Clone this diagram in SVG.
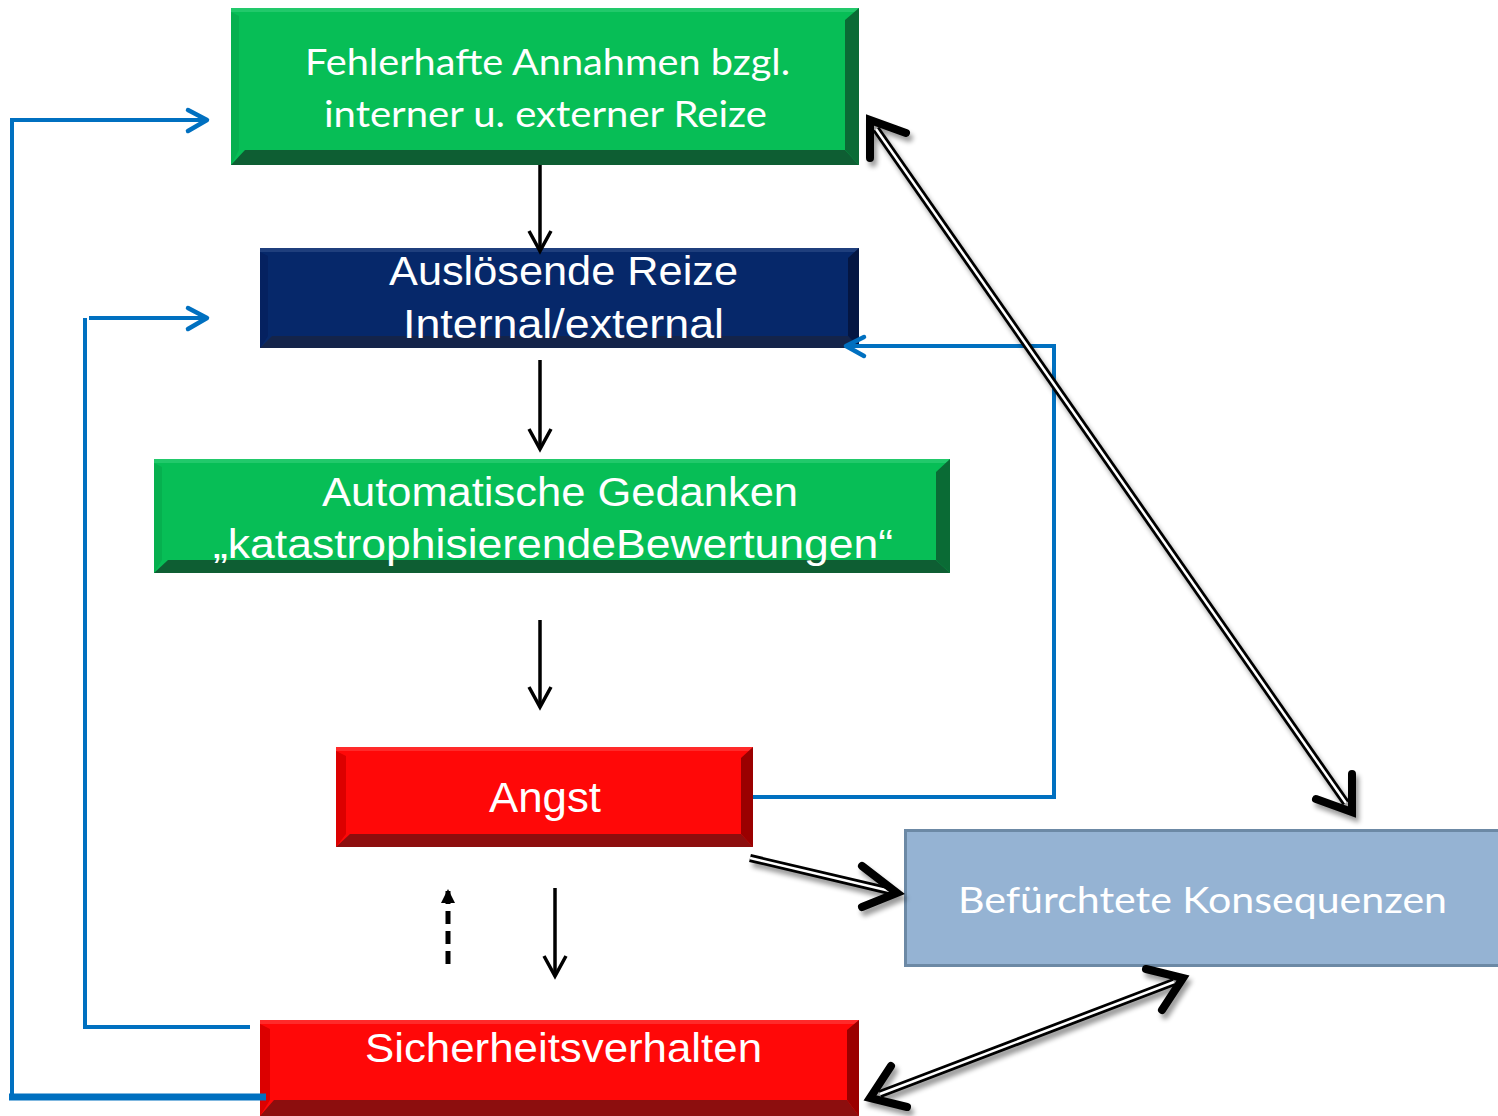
<svg xmlns="http://www.w3.org/2000/svg" width="1498" height="1116" viewBox="0 0 1498 1116">
<style>
.tw{font-family:Lato,"Open Sans","DejaVu Sans",sans-serif;fill:#fff}
.ar{font-family:"Liberation Sans",Arial,sans-serif;fill:#fff}
.blue{fill:none;stroke:#0070C0;stroke-width:4}
.bhead{fill:none;stroke:#0070C0;stroke-width:4.5;stroke-linecap:round;stroke-linejoin:round}
.blk{fill:none;stroke:#000;stroke-width:3.5}
.dshaft{fill:none;stroke:#000;stroke-width:8}
.dinner{fill:none;stroke:#fff;stroke-width:2.5}
.dhead{fill:none;stroke:#000;stroke-width:8;stroke-linecap:round;stroke-linejoin:miter}
.gtop{fill:#22C96B}.gleft{fill:#06B04F}.gright{fill:#0A6B35}.gbot{fill:#0E5E33}.gmain{fill:#07BE56}
</style>
<defs>
<marker id="vhead" markerUnits="userSpaceOnUse" viewBox="-24 -14 28 28" markerWidth="28" markerHeight="28" refX="0" refY="0" orient="auto">
<path d="M-20,-11 L0,0 L-20,11" fill="none" stroke="#000" stroke-width="3.5"/>
</marker>
<marker id="tri" markerUnits="userSpaceOnUse" viewBox="-16 -9 18 18" markerWidth="18" markerHeight="18" refX="0" refY="0" orient="auto">
<path d="M-14,-7 L0,0 L-14,7 Z" fill="#000"/>
</marker>
<filter id="sh" x="-20%" y="-20%" width="140%" height="140%">
<feGaussianBlur in="SourceAlpha" stdDeviation="2.5"/>
<feOffset dx="3" dy="5" result="b"/>
<feComponentTransfer><feFuncA type="linear" slope="0.4"/></feComponentTransfer>
<feMerge><feMergeNode/><feMergeNode in="SourceGraphic"/></feMerge>
</filter>
</defs>
<rect width="1498" height="1116" fill="#fff"/>

<g id="n1">
<rect x="231" y="8" width="628" height="157" class="gmain"/>
<rect x="231" y="8" width="628" height="4" class="gtop"/>
<polygon points="231,12 239,16 239,150 231,165" class="gleft"/>
<polygon points="859,8 859,165 845,150 845,20" class="gright"/>
<polygon points="231,165 859,165 845,150 245,150" class="gbot"/>
<text class="tw" x="305" y="75" font-size="37" textLength="485" lengthAdjust="spacingAndGlyphs">Fehlerhafte Annahmen bzgl.</text>
<text class="tw" x="324" y="127" font-size="37" textLength="443" lengthAdjust="spacingAndGlyphs">interner u. externer Reize</text>
</g>

<g id="n2">
<rect x="260" y="248" width="599" height="100" fill="#06286A"/>
<rect x="260" y="248" width="599" height="4" fill="#1F3F7D"/>
<polygon points="260,252 268,256 268,336 260,348" fill="#052160"/>
<polygon points="859,248 859,348 848,336 848,258" fill="#041642"/>
<polygon points="260,348 859,348 848,336 272,336" fill="#14244A"/>
<text class="ar" x="389" y="285" font-size="41" textLength="349" lengthAdjust="spacingAndGlyphs">Auslösende Reize</text>
<text class="ar" x="403" y="338" font-size="41" textLength="321" lengthAdjust="spacingAndGlyphs">Internal/external</text>
</g>

<g id="n3">
<rect x="154" y="459" width="796" height="114" class="gmain"/>
<rect x="154" y="459" width="796" height="4" class="gtop"/>
<polygon points="154,463 162,467 162,560 154,573" class="gleft"/>
<polygon points="950,459 950,573 936,560 936,472" class="gright"/>
<polygon points="154,573 950,573 936,560 168,560" class="gbot"/>
<text class="ar" x="322" y="506" font-size="40" textLength="476" lengthAdjust="spacingAndGlyphs">Automatische Gedanken</text>
<text class="ar" x="213" y="558" font-size="40" textLength="680" lengthAdjust="spacingAndGlyphs">„katastrophisierendeBewertungen“</text>
</g>

<g id="n4">
<rect x="336" y="747" width="417" height="100" fill="#FF0808"/>
<rect x="336" y="747" width="417" height="4" fill="#FF2A2A"/>
<polygon points="336,751 346,756 346,834 336,847" fill="#DC0000"/>
<polygon points="753,747 753,847 741,834 741,758" fill="#9A0000"/>
<polygon points="336,847 753,847 741,834 350,834" fill="#8D0E0E"/>
<text class="ar" x="489" y="812" font-size="42" textLength="112" lengthAdjust="spacingAndGlyphs">Angst</text>
</g>

<g id="n5">
<rect x="260" y="1020" width="599" height="96" fill="#FF0808"/>
<rect x="260" y="1020" width="599" height="4" fill="#FF2A2A"/>
<polygon points="260,1024 270,1029 270,1100 260,1116" fill="#DC0000"/>
<polygon points="859,1020 859,1116 847,1100 847,1030" fill="#9A0000"/>
<polygon points="260,1116 859,1116 847,1100 274,1100" fill="#8D0E0E"/>
<text class="ar" x="365" y="1062" font-size="40" textLength="397" lengthAdjust="spacingAndGlyphs">Sicherheitsverhalten</text>
</g>

<g id="n6">
<rect x="905.5" y="830.5" width="600" height="135" fill="#95B3D3" stroke="#6C89A5" stroke-width="3"/>
<text class="tw" x="958" y="913" font-size="37" textLength="489" lengthAdjust="spacingAndGlyphs">Befürchtete Konsequenzen</text>
</g>

<g id="connectors">
<line x1="540" y1="165" x2="540" y2="251" class="blk" marker-end="url(#vhead)"/>
<line x1="540" y1="360" x2="540" y2="449" class="blk" marker-end="url(#vhead)"/>
<line x1="540" y1="620" x2="540" y2="707" class="blk" marker-end="url(#vhead)"/>
<line x1="555" y1="888" x2="555" y2="976" class="blk" marker-end="url(#vhead)"/>
<line x1="448" y1="964" x2="448" y2="889" fill="none" stroke="#000" stroke-width="5" stroke-dasharray="13,7" marker-end="url(#tri)"/>

<path d="M12,1097 V120 H205" class="blue"/>
<path d="M9,1097 H266" fill="none" stroke="#0070C0" stroke-width="7"/>
<path d="M188,110 L207,120 L188,131" class="bhead"/>
<path d="M250,1027 H85 V318" class="blue"/>
<path d="M89,318 H205" class="blue"/>
<path d="M188,308 L207,318 L188,329" class="bhead"/>
<path d="M753,797 H1054 V346 H848" class="blue"/>
<path d="M864,337 L846,346 L864,356" class="bhead"/>

<g filter="url(#sh)">
<line x1="876" y1="129" x2="1346" y2="803" class="dshaft"/>
<line x1="876" y1="129" x2="1346" y2="803" class="dinner"/>
<polyline points="906,133 870,120 870,158" class="dhead"/>
<polyline points="1352,774 1352,812 1316,799" class="dhead"/>

<line x1="750" y1="858" x2="890" y2="891" class="dshaft"/>
<line x1="750" y1="858" x2="890" y2="891" class="dinner"/>
<polyline points="862,866 897,893 862,907" class="dhead"/>

<line x1="880" y1="1094" x2="1174" y2="982" class="dshaft"/>
<line x1="880" y1="1094" x2="1174" y2="982" class="dinner"/>
<polyline points="891,1066 870,1098 907,1107" class="dhead"/>
<polyline points="1146,969 1183,978 1162,1010" class="dhead"/>
</g>
</g>
</svg>
